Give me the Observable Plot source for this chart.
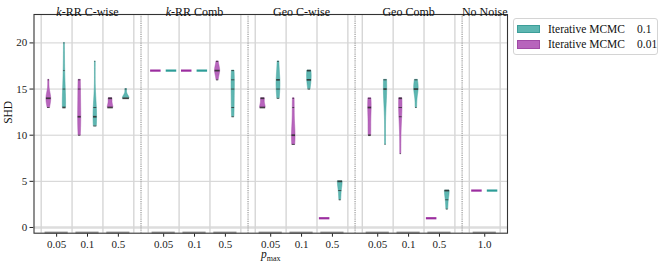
<!DOCTYPE html>
<html><head><meta charset="utf-8">
<script src="https://cdn.jsdelivr.net/npm/d3@7"></script>
<script src="https://cdn.jsdelivr.net/npm/@observablehq/plot@0.6"></script>
<style>
body{margin:0;background:#fff;}
#wrap{position:relative;width:664px;height:266px;font-family:"Liberation Serif",serif;color:#111;}
#wrap svg text{font-family:"Liberation Serif",serif !important;}
#legend{position:absolute;left:512.5px;top:17.5px;width:145px;height:37px;border:1px solid #d4d4d4;border-radius:3px;background:#fff;box-sizing:border-box;font-size:11.5px;}
.sw{position:absolute;left:3.5px;width:22.5px;height:8.3px;box-sizing:border-box;}
.lt{position:absolute;left:34.5px;white-space:nowrap;line-height:12px;}
.lv{position:absolute;left:123.5px;white-space:nowrap;line-height:12px;}
</style></head><body><div id="wrap"></div>
<script>
// ---- data ----
const groups = ["k-RR C-wise", "k-RR Comb", "Geo C-wise", "Geo Comb", "No Noise"];
const pLabels = [["0.05","0.1","0.5"],["0.05","0.1","0.5"],["0.05","0.1","0.5"],["0.05","0.1","0.5"],["1.0"]];
const seriesNames = ["Iterative MCMC", "Iterative MCMC"];
const seriesEps = ["0.1", "0.01"];
const yTicks = [0, 5, 10, 15, 20];
// SHD observations, per group, per p_max  (series "0.1", teal)
const shdA = [
  [[13,13,13,13,15,17,20],[11,12,12,12,13,18],[14,14,14,14,15]],
  [[17,17,17,17,17],[17,17,17,17,17],[12,13,15,16,17]],
  [[14,15,16,16,18],[15,16,16,17,17],[3,4,5,5,5]],
  [[9,15,15,15,16],[13,15,15,15,16],[2,3,4,4,4]],
  [[4,4,4,4,4]]
];
// series "0.01", purple
const shdB = [
  [[13,14,14,14,14,16],[10,12,12,15,16],[13,13,13,14,14]],
  [[17,17,17,17,17],[17,17,17,17,17],[16,17,17,17,18]],
  [[13,13,13,14,14],[9,10,10,10,13,14],[1,1,1,1,1]],
  [[10,10,13,13,14],[8,12,13,14,14],[1,1,1,1,1]],
  [[4,4,4,4,4]]
];

// ---- layout / style ----
const fillC = ["#5db6b1", "#b764bc"];
const edgeC = ["#3c9e99", "#a04aa6"];
const lineC = ["#2c9c97", "#9b2d9f"];
const GAP = 0.467, OFF = 0.253, FLAT = 0.17, HWMAX = 0.105, BAR = 0.375, EXP = 0.36;
const X0 = -0.233, X1 = 15.105;
const gStart = g => g * (3 + GAP);
const center = (g, i) => gStart(g) + i + 0.5;

function kdeAt(obs, y) {
  const n = obs.length, sd = d3.deviation(obs), bw = sd * Math.pow(n, -0.2);
  return d3.sum(obs, o => Math.exp(-0.5 * ((y - o) / bw) ** 2)) / (n * bw * Math.sqrt(2 * Math.PI));
}

const violins = [], flats = [];
[shdA, shdB].forEach((S, s) => {
  S.forEach((grp, g) => grp.forEach((obs, i) => {
    const xc = center(g, i) + (s === 0 ? OFF : -OFF);
    const lo = d3.min(obs), hi = d3.max(obs);
    if (lo === hi) { flats.push({s, v: lo, x1: xc - FLAT, x2: xc + FLAT}); return; }
    const ys = d3.range(81).map(k => lo + (hi - lo) * k / 80);
    const dens = ys.map(y => kdeAt(obs, y));
    const peak = d3.max(dens.concat(obs.map(o => kdeAt(obs, o))));
    violins.push({s, g, i, xc, obs, ys, dens, peak});
  }));
});
const peakAll = d3.max(violins, d => d.peak);
const pts = [[], []], sticks = [];
violins.forEach((v, id) => {
  const k = HWMAX * Math.pow(v.peak / peakAll, EXP) / v.peak;
  v.ys.forEach((y, j) => pts[v.s].push({id, v: y, xa: v.xc - k * v.dens[j], xb: v.xc + k * v.dens[j]}));
  d3.rollups(v.obs, a => a.length, o => o).forEach(([val, c]) => {
    const hw = k * kdeAt(v.obs, val);
    sticks.push({v: val, x1: v.xc - hw, x2: v.xc + hw, w: c > 1 ? 1.7 : 0.9});
  });
});

const tickPos = [], tickLab = new Map(), gridPos = [], seps = [];
pLabels.forEach((ps, g) => {
  ps.forEach((p, i) => { const c = center(g, i); tickPos.push(c); tickLab.set(c, p); });
  for (let k = 0; k <= ps.length; k++) gridPos.push(gStart(g) + k);
  if (g < pLabels.length - 1) seps.push(gStart(g) + 3 + GAP / 2);
});
const titleX = groups.map((t, g) => gStart(g) + pLabels[g].length / 2);
const FONT = "Liberation Serif, serif";

const plot = Plot.plot({
  width: 664, height: 266,
  marginLeft: 33.5, marginRight: 157, marginTop: 14, marginBottom: 33.3,
  style: {background: "white", fontFamily: FONT, fontSize: "11px", color: "#222", overflow: "visible"},
  x: {type: "linear", domain: [X0, X1], ticks: tickPos, tickFormat: d => tickLab.get(d), tickSize: 4, tickPadding: 2.5, label: null},
  y: {domain: [-0.62, 23.08], ticks: yTicks, tickSize: 4, tickPadding: 2.8, label: null},
  marks: [
    Plot.ruleY(yTicks.filter(d => d > 0), {stroke: "#cccccc", strokeWidth: 0.9}),
    Plot.ruleY([0], {stroke: "#dddddd", strokeWidth: 2.5}),
    Plot.ruleX(gridPos, {stroke: "#d6d6d6", strokeWidth: 1.4}),
    Plot.ruleX(seps, {stroke: "#9a9a9a", strokeWidth: 1.2, strokeDasharray: "1.2,1"}),
    Plot.ruleY(tickPos, {y: () => -0.55, x1: d => d - BAR, x2: d => d + BAR, stroke: "#9c9c9c", strokeWidth: 2}),
    Plot.areaX(pts[0], {y: "v", x1: "xa", x2: "xb", z: "id", fill: fillC[0], stroke: edgeC[0], strokeWidth: 0.5}),
    Plot.areaX(pts[1], {y: "v", x1: "xa", x2: "xb", z: "id", fill: fillC[1], stroke: edgeC[1], strokeWidth: 0.5}),
    Plot.ruleY(flats, {y: "v", x1: "x1", x2: "x2", stroke: d => lineC[d.s], strokeWidth: 2.2}),
    Plot.ruleY(sticks, {y: "v", x1: "x1", x2: "x2", stroke: "#2a2a2a", strokeWidth: "w", strokeOpacity: 0.85}),
    Plot.frame({stroke: "#333", strokeWidth: 1.1}),
    Plot.text(groups, {x: (d, i) => titleX[i], text: d => d, frameAnchor: "top", dy: -7.5, fontSize: 12, fill: "#111", fontFamily: FONT}),
    Plot.text(["p_max"], {x: () => (X0 + X1) / 2, text: d => d, frameAnchor: "bottom", dy: 25, fontSize: 11.5, fill: "#111", fontFamily: FONT}),
    Plot.text(["SHD"], {text: d => d, frameAnchor: "left", dx: -26, rotate: -90, fontSize: 11.5, fill: "#111", fontFamily: FONT})
  ]
});

// rich text: italic k, p with subscript
d3.select(plot).selectAll("text").style("font-family", FONT).each(function () {
  const t = this.textContent, el = d3.select(this);
  if (t.startsWith("k-RR")) {
    el.text(null);
    el.append("tspan").attr("font-style", "italic").text("k");
    el.append("tspan").text(t.slice(1));
  } else if (t === "p_max") {
    el.text(null);
    el.append("tspan").attr("font-style", "italic").text("p");
    el.append("tspan").attr("font-size", 8).attr("dy", 2.5).text("max");
  }
});
d3.select(plot).selectAll("g").attr("font-family", null);

const wrap = document.getElementById("wrap");
wrap.appendChild(plot);
const leg = document.createElement("div");
leg.id = "legend";
seriesNames.forEach((name, s) => {
  const top = s === 0 ? 6.5 : 21.8;
  leg.insertAdjacentHTML("beforeend",
    `<div class="sw" style="top:${top}px;background:${fillC[s]};border:1px solid ${edgeC[s]}"></div>` +
    `<div class="lt" style="top:${top - 2.3}px">${name}</div>` +
    `<div class="lv" style="top:${top - 2.3}px">${seriesEps[s]}</div>`);
});
wrap.appendChild(leg);
</script></body></html>
